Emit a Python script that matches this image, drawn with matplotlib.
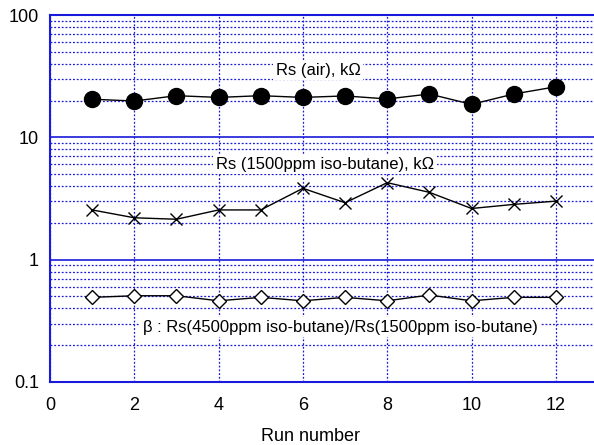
import numpy as np
import matplotlib.pyplot as plt
from matplotlib.ticker import LogLocator, NullFormatter

plt.rcParams['font.family'] = ['Liberation Sans', 'DejaVu Sans']
plt.rcParams['font.size'] = 12

runs = np.arange(1, 13)
rs_air = [20.5, 19.8, 21.9, 21.2, 21.9, 21.2, 21.8, 20.6, 22.6, 18.6, 22.6, 25.9]
rs_gas = [2.55, 2.20, 2.14, 2.55, 2.55, 3.83, 2.92, 4.26, 3.55, 2.62, 2.83, 3.01]
beta = [0.492, 0.507, 0.507, 0.461, 0.492, 0.461, 0.492, 0.461, 0.514, 0.461, 0.492, 0.492]

x_ticks = [0, 2, 4, 6, 8, 10, 12]
y_ticks = [0.1, 1, 10, 100]
y_labels = ['0.1', '1', '10', '100']

blue = '#1a1adc'

fig = plt.figure(figsize=(5.94, 4.45), dpi=100)
ax = fig.add_axes([50 / 594, 63 / 445, 548 / 594, 367 / 445])
ax.set_yscale('log')
ax.set_xlim(0, 13)
ax.set_ylim(0.1, 100)

ax.plot(runs, rs_air, '-', color='black', lw=1, marker='o', ms=11.5,
        mfc='black', mec='black', zorder=4)
ax.plot(runs, rs_gas, '-', color='black', lw=1, marker='x', ms=9,
        mew=1, zorder=4)
ax.plot(runs, beta, '-', color='black', lw=1, marker='D', ms=7,
        mfc='white', mec='black', mew=1, zorder=4)

ax.set_xticks(x_ticks)
ax.set_yticks(y_ticks)
ax.set_yticklabels(y_labels)
ax.yaxis.set_minor_locator(LogLocator(base=10, subs=np.arange(2, 10)))
ax.yaxis.set_minor_formatter(NullFormatter())
ax.tick_params(which='both', length=0, labelsize=13)
ax.tick_params(axis='x', pad=11)
ax.tick_params(axis='y', pad=8)

ax.set_axisbelow(True)
ax.grid(True, which='major', axis='y', color=blue, lw=1.2, ls='-')
ax.grid(True, which='minor', axis='y', color=blue, lw=0.9, ls=(0, (1.5, 1.5)))
ax.grid(True, which='major', axis='x', color=blue, lw=0.9, ls=(0, (1.5, 1.5)))

for s in ax.spines.values():
    s.set_color(blue)
    s.set_linewidth(1.5)

box = dict(facecolor='white', edgecolor='none', pad=2)
ax.text(6.36, 35.5, 'Rs (air), k\u03a9', ha='center', va='center', bbox=box, zorder=3)
ax.text(6.52, 6.05, 'Rs (1500ppm iso-butane), k\u03a9', ha='center', va='center',
        bbox=box, zorder=3)
ax.text(6.88, 0.281, '\u03b2 : Rs(4500ppm iso-butane)/Rs(1500ppm iso-butane)',
        ha='center', va='center', bbox=box, zorder=3)

ax.set_xlabel('Run number', fontsize=13)
ax.xaxis.set_label_coords(0.476, -0.125)

fig.savefig('out.png', dpi=100)
